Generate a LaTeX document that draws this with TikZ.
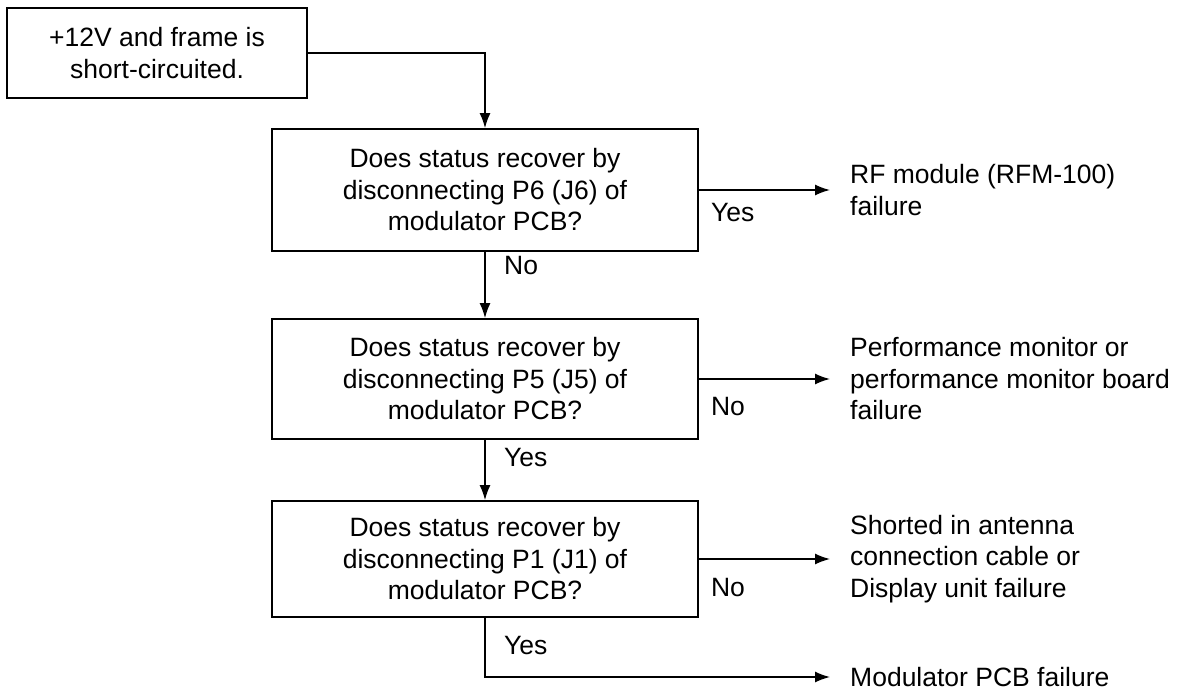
\documentclass[tikz,border=0pt]{standalone}
\usepackage{fontspec}
\setmainfont{Liberation Sans}
\usetikzlibrary{arrows.meta,calc}

\begin{document}
\begin{tikzpicture}[x=1pt,y=-1pt,
    >={Latex[length=15pt,width=11pt]}, font=\fontsize{26.5}{31.5}\selectfont,
    check/.style={draw,line width=1.8pt,align=center,minimum width=426pt,minimum height=120pt,inner sep=4pt},
    startbox/.style={check,minimum width=300pt,minimum height=90pt},
    flow/.style={->,line width=1.5pt},
    answer/.style={anchor=west,inner sep=0pt},
    result/.style={anchor=west,align=left,inner xsep=20pt,inner ysep=0pt},
]
\useasboundingbox (0,0) rectangle (1177,693);

% ---------- starting condition ----------
\node[startbox] (start) at (157,53) {+12V and frame is\\short-circuited.};

% ---------- the three checks (x = 485) ----------
\node[check,minimum height=122pt] (chkP6) at (485,190) {Does status recover by\\disconnecting P6 (J6) of\\modulator PCB?};
\node[check] (chkP5) at (485,379) {Does status recover by\\disconnecting P5 (J5) of\\modulator PCB?};
\node[check,minimum height=116pt] (chkP1) at (485,559) {Does status recover by\\disconnecting P1 (J1) of\\modulator PCB?};

% ---------- failure results on the right ----------
\node[result] (rfm)   at (830,190) {RF module (RFM-100)\\failure};
\node[result] (perf)  at (830,379) {Performance monitor or\\performance monitor board\\failure};
\node[result] (cable) at (830,559) {Shorted in antenna\\connection cable or\\Display unit failure};
\node[result] (modpcb) at (830,677) {Modulator PCB failure};

% ---------- connectors ----------
\draw[flow] (start.east) -| (chkP6.north);
\draw[flow] (chkP6.south) -- (chkP5.north);
\draw[flow] (chkP5.south) -- (chkP1.north);
\draw[flow] (chkP6.east) -- (chkP6.east -| rfm.west);
\draw[flow] (chkP5.east) -- (chkP5.east -| perf.west);
\draw[flow] (chkP1.east) -- (chkP1.east -| cable.west);
\draw[flow] (chkP1.south) |- (modpcb.west);

% ---------- answer labels ----------
\node[answer] (a6yes) at ($(chkP6.east)+(12,23)$) {Yes};
\node[answer] (a6no)  at ($(chkP6.south)+(19,14)$) {No};
\node[answer] (a5no)  at ($(chkP5.east)+(12,28)$) {No};
\node[answer] (a5yes) at ($(chkP5.south)+(19,18)$) {Yes};
\node[answer] (a1no)  at ($(chkP1.east)+(12,29)$) {No};
\node[answer] (a1yes) at ($(chkP1.south)+(19,28)$) {Yes};

\end{tikzpicture}
\end{document}
